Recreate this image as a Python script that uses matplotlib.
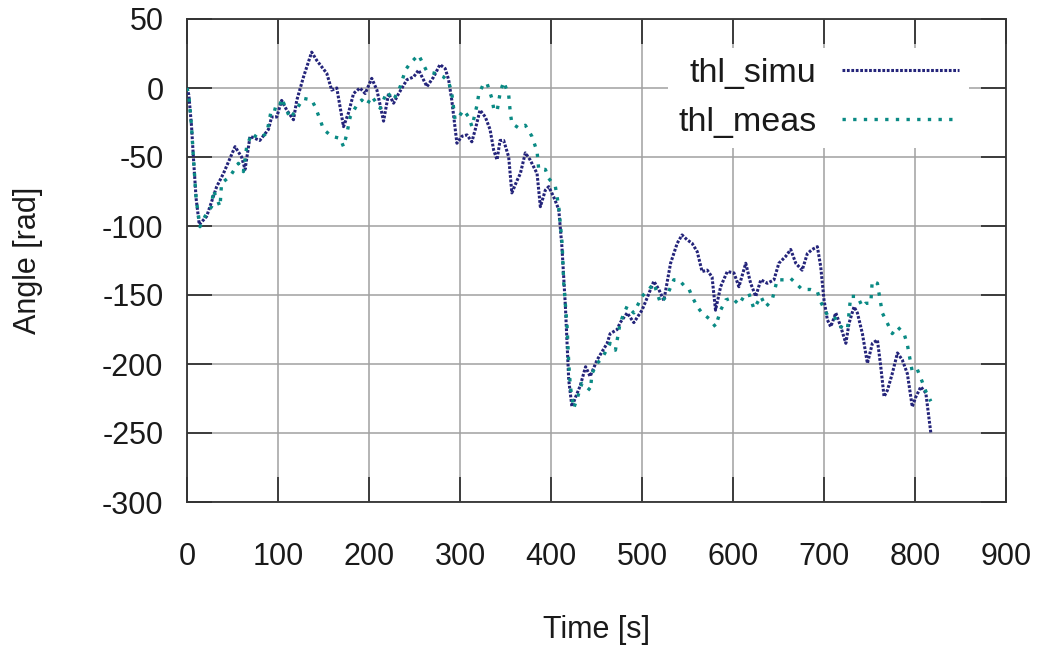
import matplotlib
matplotlib.use("Agg")
import matplotlib.pyplot as plt

plt.rcParams['font.family'] = ['Liberation Sans', 'DejaVu Sans']
plt.rcParams['axes.unicode_minus'] = False

simu_t = [0, 2, 5, 7, 10, 13.5, 21.6, 32.6, 40, 52.8, 60, 63.8, 69.3, 80, 89.5, 93, 98.6,
          104, 109.6, 117, 120.6, 128, 137, 142.6, 153.6, 159, 164.6, 172, 177.5, 183,
          190, 195.8, 203, 208.7, 216, 221.5, 227, 232.6, 241.7, 249, 254.5, 263.7, 271,
          278, 283.8, 287.5, 291, 296.6, 302, 307.7, 313, 316.8, 322, 327.8, 333, 337,
          340.7, 344, 348, 353.5, 357, 362.7, 366.3, 371.8, 377, 384.7, 388.3, 393.8,
          397.5, 403, 408.5, 412, 415.8, 419.5, 423, 427, 432, 438, 443, 450.7, 461.7,
          465, 472.7, 476, 483.7, 491, 500, 505.7, 513, 518.5, 524, 531.4, 538.7, 544,
          549.6, 555, 560.7, 566, 571.7, 577, 580.8, 586.4, 593.7, 601, 606.5, 614,
          619.4, 625, 630.6, 637.7, 645, 650.4, 657.9, 663.4, 669, 676, 681.7, 687,
          692.7, 696.4, 700, 703.7, 707.4, 713, 718.4, 724, 727.5, 733, 736.7, 742.2,
          747.7, 753.2, 758.7, 762.4, 766, 769.7, 775, 780.7, 786, 791.6, 797, 800.8,
          806.4, 811.9, 817.4]
simu_v = [0, -5, -28, -50, -80, -99, -93, -71.5, -62, -42.5, -50, -59, -35, -38, -30, -21, -21,
          -9, -16, -23, -9, 8, 26, 20, 10.6, -1.5, 0, -28, -18, -4,
          0, -4, 7, -1.5, -24, -4, -11, -4, 6, 8, 13, 1, 8,
          17, 14, 6, -9, -40, -35, -34, -39, -30, -16, -21, -30, -45,
          -52, -38, -38, -50, -76, -67, -62, -47, -52, -62, -86, -74,
          -71.5, -79, -88, -115, -158, -211.6, -231, -224, -216, -202, -209, -197, -185,
          -178, -175, -170, -163, -170, -161, -152, -140, -146, -154, -127, -112.5, -106.5,
          -110, -112.5, -118.6, -133, -132, -137, -161, -144, -133, -134, -144, -127,
          -141.5, -151, -139, -141.5, -139, -127, -122, -117, -127, -132, -120, -117,
          -115, -129.5, -153.6, -168, -173, -163, -173, -185, -170.5, -158.5, -163, -178,
          -199.5, -185, -182.6, -202, -223.7, -219, -207, -192, -197, -207, -231, -224,
          -216.5, -221, -250]

meas_t = [0, 2, 5, 7, 10, 14.3, 19.8, 27, 29, 36.3, 38, 47.3, 56.5, 62, 65.6, 71, 78.5, 87.6,
          93, 100.5, 104, 113.3, 118.8, 128, 137, 140.8, 146.3, 150, 159, 168.3, 172,
          175.7, 179.3, 186.7, 192, 197.7, 203, 212.3, 219.6, 227, 234.3, 240, 245.3,
          254.5, 260, 263.7, 272.8, 282, 287.5, 291, 294.6, 298.5, 304, 309.5, 313.2,
          318.7, 320.5, 326, 329.7, 335, 337, 340.7, 344.3, 348, 353.5, 355.3, 357,
          364.5, 371.8, 379, 384.7, 386.5, 393.8, 397.5, 404.8, 408.5, 412.2, 414,
          417.7, 419.5, 421.3, 425, 428.7, 434, 443.3, 445, 450.7, 456, 465, 470.8, 476,
          483.7, 491, 500, 507.5, 513, 520.4, 527.7, 535, 540.5, 546, 551.5, 555, 560.7,
          566, 573.5, 580.8, 586.4, 592, 599, 606.5, 612, 617.5, 623, 630.6, 636, 643,
          648.6, 656, 663.4, 669, 676, 685, 692.7, 696.4, 703.7, 711, 718.4, 725.7,
          729.3, 736.7, 742.2, 745.8, 751.4, 753, 758.7, 760.5, 764.1, 769.7, 775,
          780.7, 788, 791.6, 797, 802.6, 808, 812, 817.4]
meas_v = [0, -5, -28, -50, -80, -100.5, -93, -86, -74, -86, -69, -64, -54.6, -60.6, -42.5, -33, -36.5, -33,
          -14.7, -16, -7.5, -22, -17, -7.5, -8.7, -13.5, -23, -30, -35, -36.5, -42.5,
          -33, -21, -12.3, -8.7, -12.3, -6, -14.7, -2.7, -8.7, 1, 13, 18,
          24, 16.7, 11.8, 10.6, 8, 4.5, -4, -23, -21, -16, -21, -28,
          -12.3, -5, 3.4, 3.4, -7.5, -14.7, -17, -2.7, 4.5, -5, -18, -25.6,
          -29, -27, -35, -46, -59, -59, -65.5, -71.5, -86, -112.5, -141.5,
          -173, -199.5, -216.5, -232, -225, -214, -219, -207, -199.5, -196, -185, -190, -170,
          -158, -163, -151, -146, -141.5, -156, -150, -139, -139, -143, -145.5, -151, -158.5,
          -163, -167, -173, -161, -153.6, -152, -157, -151, -149, -160, -151, -158.5, -153.6,
          -139, -139, -138, -141.5, -146, -146, -147.6, -155, -164.5, -165.7, -173, -175,
          -151, -151, -158.5, -156, -156, -140, -141.5, -149, -163, -170.5, -178,
          -173, -178, -186, -205.6, -204, -213, -220, -227]

x_ticks = [0, 100, 200, 300, 400, 500, 600, 700, 800, 900]
y_ticks = [-300, -250, -200, -150, -100, -50, 0, 50]

fig = plt.figure(figsize=(10.4, 6.52), dpi=100)
ax = fig.add_axes([187/1040, 1 - 502/652, (1006-187)/1040, (502-19)/652])

simu_color = '#24247a'
meas_color = '#0a8a84'

ax.plot(simu_t, simu_v, color=simu_color, lw=2.2, dashes=(0.9, 0.55), label='thl_simu', zorder=3)
ax.plot(meas_t, meas_v, color=meas_color, lw=2.4, dashes=(1.0, 2.2), label='thl_meas', zorder=3)

ax.set_xlim(0, 900)
ax.set_ylim(-300, 50)
ax.set_xticks(x_ticks)
ax.set_yticks(y_ticks)
ax.grid(True, color='#a0a0a0', lw=1.1, zorder=0)
ax.set_axisbelow(True)
for s in ax.spines.values():
    s.set_color('#333333')
    s.set_linewidth(1.3)
ax.tick_params(direction='in', length=18, width=1.3, color='#333333',
               top=True, right=True, labelsize=22, labelcolor='#1a1a1a')
ax.tick_params(axis='x', pad=29)
ax.tick_params(axis='y', pad=17)

ax.set_xlabel('Time [s]', fontsize=22, color='#1a1a1a')
ax.set_ylabel('Angle [rad]', fontsize=22, color='#1a1a1a')
ax.xaxis.label.set_va('center')
ax.yaxis.label.set_va('center')
ax.xaxis.set_label_coords(0.5, -(630 - 502) / 483)
ax.yaxis.set_label_coords(-(187 - 28) / 819, 0.5)

leg = ax.legend(loc='upper right', bbox_to_anchor=((969 - 187) / 819, 1 - (48 - 19) / 483),
                fontsize=24.5, markerfirst=False, frameon=True, facecolor='white',
                edgecolor='none', framealpha=1, fancybox=False, handlelength=3.44,
                handletextpad=0.74, labelspacing=0.53, borderpad=0.3, borderaxespad=0)
for t in leg.get_texts():
    t.set_color('#1a1a1a')

fig.savefig('out.png', dpi=100)
